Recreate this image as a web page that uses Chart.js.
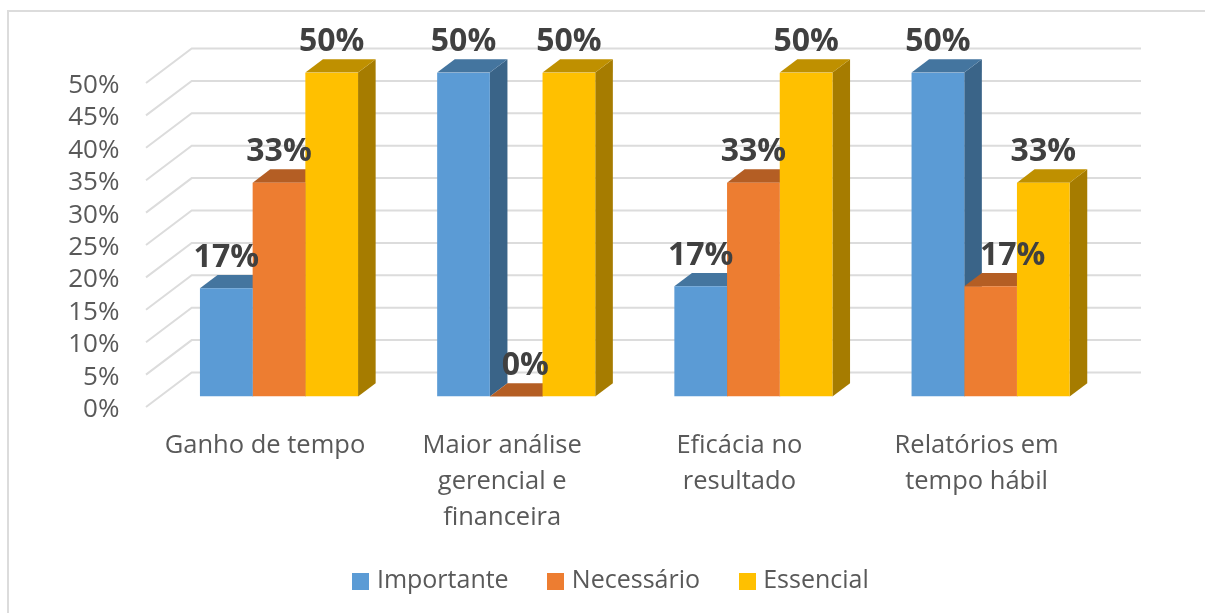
<!DOCTYPE html>
<html>
<head>
<meta charset="utf-8">
<style>
html,body{margin:0;padding:0;background:#fff;overflow:hidden}
#wrap{position:absolute;left:0;top:0;width:1205px;height:613px}
#frame{position:absolute;left:7px;top:10px;right:0;bottom:0;border-left:2px solid #dcdcdc;border-top:2px solid #dcdcdc}
canvas{position:absolute;left:0;top:0}
</style>
<script src="https://cdn.jsdelivr.net/npm/chart.js@4"></script>
</head>
<body>
<div id="wrap"><div id="frame"></div><canvas id="c" width="1205" height="613"></canvas></div>
<script>
const categories = [["Ganho de tempo"], ["Maior análise","gerencial e","financeira"], ["Eficácia no","resultado"], ["Relatórios em","tempo hábil"]];
const importante = [16.7, 50, 17, 50];
const necessario = [33, 0, 33, 17];
const essencial = [50, 50, 50, 33];
const seriesNames = ["Importante", "Necessário", "Essencial"];
const yMax = 50;
const yStep = 5;

const FONT = '"Open Sans", sans-serif';
const faceColors = ["#5B9BD5", "#ED7D31", "#FFC000"];
const topColors = ["#44759F", "#B45E24", "#BF9000"];
const sideColors = ["#3A6488", "#8E4B1E", "#A67C00"];
const BAR_DX = 17.6, BAR_DY = 13.3;

function poly(ctx, pts, fill) {
  ctx.beginPath();
  pts.forEach((p, i) => i ? ctx.lineTo(p[0], p[1]) : ctx.moveTo(p[0], p[1]));
  ctx.closePath();
  ctx.fillStyle = fill;
  ctx.fill();
}

function swatch(color) {
  const s = document.createElement('canvas');
  s.width = 17; s.height = 17;
  const g = s.getContext('2d');
  g.fillStyle = color;
  g.fillRect(0, 0, 17, 17);
  return s;
}

const wallsAndDepth = {
  id: 'wallsAndDepth',
  afterLayout(chart) {
    chart.legend.left += 25.9;
    chart.legend.right += 25.9;
  },
  beforeDatasetsDraw(chart) {
    const ctx = chart.ctx, y = chart.scales.y, a = chart.chartArea;
    const backL = a.left + 31.3, backR = a.right + 31.8, frontL = a.left - 14.4;
    ctx.save();
    ctx.strokeStyle = '#DCDCDC';
    ctx.lineWidth = 2;
    y.ticks.forEach(t => {
      const p = y.getPixelForValue(t.value);
      ctx.beginPath();
      ctx.moveTo(frontL, p + 10.5);
      ctx.lineTo(backL, p - 24);
      ctx.lineTo(backR, p - 24);
      ctx.stroke();
    });
    chart.data.datasets.forEach((ds, i) => {
      chart.getDatasetMeta(i).data.forEach(el => {
        const l = el.x - el.width / 2, r = el.x + el.width / 2, t = el.y, b = el.base;
        poly(ctx, [[r, t], [r + BAR_DX, t - BAR_DY], [r + BAR_DX, b - BAR_DY], [r, b]], sideColors[i]);
        poly(ctx, [[l, t], [l + BAR_DX, t - BAR_DY], [r + BAR_DX, t - BAR_DY], [r, t]], topColors[i]);
      });
    });
    ctx.restore();
  },
  afterDatasetsDraw(chart) {
    const ctx = chart.ctx;
    const nudges = {'1:1': 9, '3:1': 22};
    ctx.save();
    ctx.font = 'bold 32px ' + FONT;
    ctx.fillStyle = '#404040';
    ctx.textAlign = 'center';
    ctx.textBaseline = 'middle';
    chart.data.datasets.forEach((ds, i) => {
      chart.getDatasetMeta(i).data.forEach((el, j) => {
        const dx = nudges[j + ':' + i] || 0;
        ctx.fillText(Math.round(ds.data[j]) + '%', el.x + dx, el.y - 30.5);
      });
    });
    ctx.restore();
  }
};

function ds(k, data) {
  return {
    label: seriesNames[k], data,
    backgroundColor: faceColors[k], borderWidth: 0,
    barPercentage: 1, categoryPercentage: 0.6665
  };
}

new Chart(document.getElementById('c'), {
  type: 'bar',
  data: { labels: categories, datasets: [ds(0, importante), ds(1, necessario), ds(2, essencial)] },
  plugins: [wallsAndDepth],
  options: {
    responsive: false,
    animation: false,
    events: [],
    layout: { padding: { left: 65, right: 95.8, top: 72.5, bottom: 9.5 } },
    plugins: {
      tooltip: { enabled: false },
      title: { display: false },
      legend: {
        position: 'bottom',
        labels: {
          usePointStyle: true,
          pointStyleWidth: 7.2,
          padding: 43.5,
          color: '#595959',
          font: { family: FONT, size: 25 },
          generateLabels(chart) {
            return Chart.defaults.plugins.legend.labels.generateLabels(chart).map((it, k) => {
              it.pointStyle = swatch(faceColors[k]);
              return it;
            });
          }
        }
      }
    },
    scales: {
      x: {
        grid: { display: false, drawTicks: false },
        border: { display: false },
        afterFit(s) { s.height = 128.5; },
        ticks: {
          autoSkip: false, maxRotation: 0, minRotation: 0,
          color: '#595959',
          font: { family: FONT, size: 25.5, lineHeight: 1.41 },
          padding: 31,
          labelOffset: -14
        }
      },
      y: {
        min: 0, max: yMax,
        grid: { display: false, drawTicks: false },
        border: { display: false },
        afterFit(s) { s.width = 95.4; },
        ticks: {
          autoSkip: false,
          stepSize: yStep,
          color: '#595959',
          font: { family: FONT, size: 26 },
          padding: 41,
          labelOffset: 13,
          callback: v => v + '%'
        }
      }
    }
  }
});
</script>
</body>
</html>
